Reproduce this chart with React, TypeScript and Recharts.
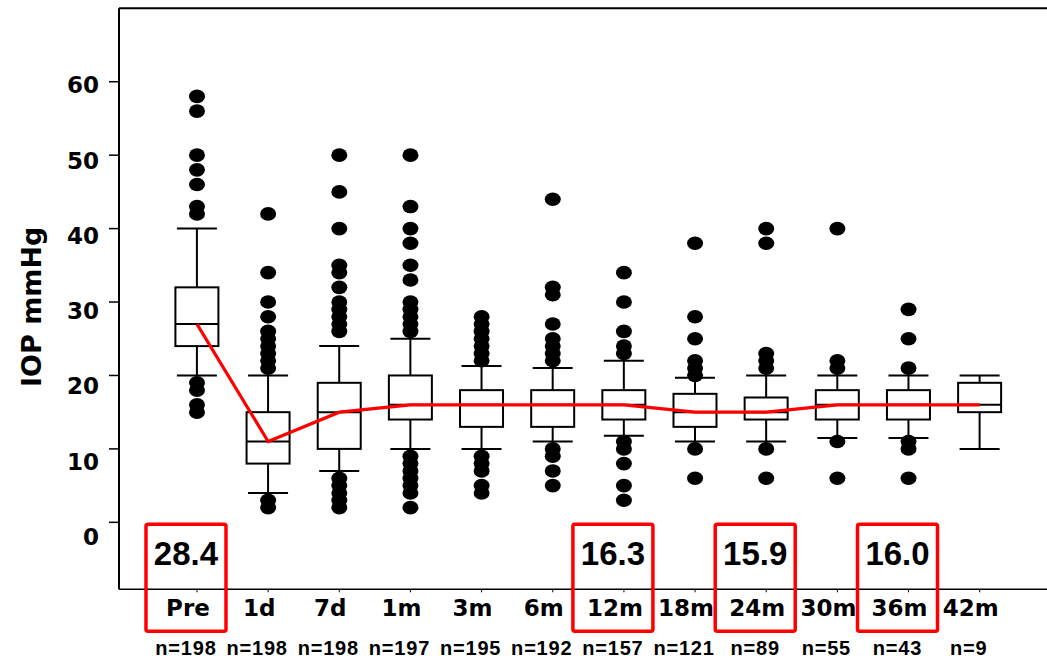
import React from 'react';
import { ComposedChart, Bar, Line, Scatter, XAxis, YAxis, ReferenceLine } from 'recharts';

// follow-up visits
const categories = ['Pre', '1d', '7d', '1m', '3m', '6m', '12m', '18m', '24m', '30m', '36m', '42m'];
const counts = [198, 198, 198, 197, 195, 192, 157, 121, 89, 55, 43, 9];

// box-plot statistics, mmHg
const whiskerLow = [20, 4, 7, 10, 10, 11, 11.8, 11, 11, 11.5, 11.5, 10];
const q1 = [24, 8, 10, 14, 13, 13, 14, 13, 14, 14, 14, 15];
const medians = [27, 11, 15, 16, 16, 16, 16, 15, 15, 16, 16, 16];
const q3 = [32, 15, 19, 20, 18, 18, 18, 17.5, 17, 18, 18, 19];
const whiskerHigh = [40, 20, 24, 25, 21.3, 21, 22, 19.7, 20, 20, 20, 20];

// values outside the whiskers
const outliers: number[][] = [
  [58, 56, 50, 48, 46, 43, 42, 19, 18, 16, 15],
  [42, 34, 30, 28, 26, 25, 24, 23, 22, 21, 3, 2],
  [50, 45, 40, 35, 34, 32, 30, 29, 28, 27, 26, 6, 5, 4, 3, 2],
  [50, 43, 40, 38, 35, 33, 30, 29, 28, 27, 26, 9, 8, 7, 6, 5, 4, 2],
  [28, 27, 26, 25, 24, 23, 22, 9, 8, 7, 5, 4],
  [44, 32, 31, 27, 25, 24, 23, 22, 10, 9, 7, 5],
  [34, 30, 26, 24, 23, 11, 10, 8, 5, 3],
  [38, 28, 25, 22, 21, 20, 10, 6],
  [40, 38, 23, 22, 21, 10, 6],
  [40, 22, 21, 11, 6],
  [29, 25, 21, 11, 10, 6],
  [],
];

// mean IOP highlighted at selected visits
const means: (number | null)[] = [28.4, null, null, null, null, null, 16.3, null, 15.9, null, 16.0, null];

const yTicks = [0, 10, 20, 30, 40, 50, 60];

const chartData = categories.map((name, i) => ({
  idx: i,
  name,
  wLow: whiskerLow[i],
  q1: q1[i],
  median: medians[i],
  q3: q3[i],
  wHigh: whiskerHigh[i],
}));

const outlierData = outliers.flatMap((vals, i) => vals.map((v) => ({ idx: i, value: v })));
const meanData = means
  .map((m, i) => ({ idx: i, anchor: 0, mean: m }))
  .filter((d) => d.mean !== null);

const RED = '#ff0000';
const bold = 'DejaVu Sans, sans-serif';
const arial = 'Liberation Sans, Arial, sans-serif';

// whiskers + box + median, scaled off the whisker range bar
const BoxShape = (props: any) => {
  const { x, y, width, height, payload } = props;
  const top = Math.min(y, y + height);
  const span = Math.abs(height);
  const range = payload.wHigh - payload.wLow;
  const py = (v: number) => top + ((payload.wHigh - v) / range) * span;
  const cx = x + width / 2;
  const half = 21.5;
  const cap = 20;
  return (
    <g>
      <line x1={cx} x2={cx} y1={py(payload.wHigh)} y2={py(payload.wLow)} stroke="#000" strokeWidth={2} />
      <line x1={cx - cap} x2={cx + cap} y1={py(payload.wHigh)} y2={py(payload.wHigh)} stroke="#000" strokeWidth={2} />
      <line x1={cx - cap} x2={cx + cap} y1={py(payload.wLow)} y2={py(payload.wLow)} stroke="#000" strokeWidth={2} />
      <rect
        x={cx - half}
        y={py(payload.q3)}
        width={half * 2}
        height={py(payload.q1) - py(payload.q3)}
        fill="#fff"
        stroke="#000"
        strokeWidth={2}
      />
      <line x1={cx - half} x2={cx + half} y1={py(payload.median)} y2={py(payload.median)} stroke="#000" strokeWidth={2} />
    </g>
  );
};

const OutlierDot = (props: any) => {
  const { cx, cy } = props;
  return <ellipse cx={cx} cy={cy} rx={8} ry={6.8} fill="#000" />;
};

// red frame with the mean value, sitting on the zero line
const MeanBox = (props: any) => {
  const { cx, cy, payload } = props;
  const x = cx - 11;
  return (
    <g>
      <rect x={x - 40} y={cy + 2} width={80} height={107} rx={2} fill="none" stroke={RED} strokeWidth={3.5} />
      <text x={x} y={cy + 43} textAnchor="middle" fontFamily={arial} fontWeight="bold" fontSize={33} fill="#000">
        {payload.mean.toFixed(1)}
      </text>
    </g>
  );
};

const XTick = (props: any) => {
  const { x, y, payload } = props;
  const i = payload.value;
  return (
    <g>
      <text x={x - 9} y={y + 23.5} textAnchor="middle" fontFamily={bold} fontWeight="bold" fontSize={23} fill="#000">
        {categories[i]}
      </text>
      <text
        x={x - 11}
        y={y + 63}
        textAnchor="middle"
        fontFamily={arial}
        fontWeight="bold"
        fontSize={20}
        letterSpacing={0.8}
        fill="#000"
      >
        n={counts[i]}
      </text>
    </g>
  );
};

const YTick = (props: any) => {
  const { x, y, payload } = props;
  // labels drift a little lower toward the bottom of the axis
  const dy = 11.5 + (60 - payload.value) * 0.185;
  return (
    <text x={x} y={y + dy} textAnchor="end" fontFamily={bold} fontWeight="bold" fontSize={23} fill="#000">
      {payload.value}
    </text>
  );
};

const YLabel = (props: any) => {
  const { viewBox } = props;
  const lx = viewBox.x + 41;
  const ly = viewBox.y + viewBox.height / 2 + 8;
  return (
    <text
      x={lx}
      y={ly}
      transform={`rotate(-90, ${lx}, ${ly})`}
      textAnchor="middle"
      fontFamily={bold}
      fontWeight="bold"
      fontSize={27}
      fill="#000"
    >
      IOP mmHg
    </text>
  );
};

export default function App() {
  return (
    <div style={{ position: 'absolute', left: 0, top: 0, width: 1047, height: 658, background: '#fff' }}>
      <ComposedChart width={1047} height={658} data={chartData} margin={{ top: 8.3, right: 0, bottom: 0, left: 0 }}>
        <XAxis
          dataKey="idx"
          type="number"
          domain={[-1.096, 11.946]}
          ticks={categories.map((_, i) => i)}
          height={68.7}
          axisLine={{ stroke: '#000', strokeWidth: 1.5 }}
          tickLine={{ stroke: '#000', strokeWidth: 1 }}
          tickSize={3}
          tickMargin={0}
          tick={<XTick />}
          interval={0}
        />
        <YAxis
          type="number"
          domain={[-9.12, 70]}
          ticks={yTicks}
          width={119}
          axisLine={{ stroke: '#000', strokeWidth: 2 }}
          tickLine={{ stroke: '#000', strokeWidth: 1.5 }}
          tickSize={10}
          tickMargin={10}
          tick={<YTick />}
          label={{ content: <YLabel /> }}
        />
        <ReferenceLine y={70} stroke="#000" strokeWidth={2} />
        <Bar
          dataKey={(d: any) => [d.wLow, d.wHigh]}
          barSize={43}
          shape={<BoxShape />}
          isAnimationActive={false}
        />
        <Line
          dataKey="median"
          type="linear"
          stroke={RED}
          strokeWidth={3.2}
          dot={false}
          activeDot={false}
          isAnimationActive={false}
        />
        <Scatter data={outlierData} dataKey="value" shape={<OutlierDot />} isAnimationActive={false} />
        <Scatter data={meanData} dataKey="anchor" shape={<MeanBox />} isAnimationActive={false} />
      </ComposedChart>
    </div>
  );
}
